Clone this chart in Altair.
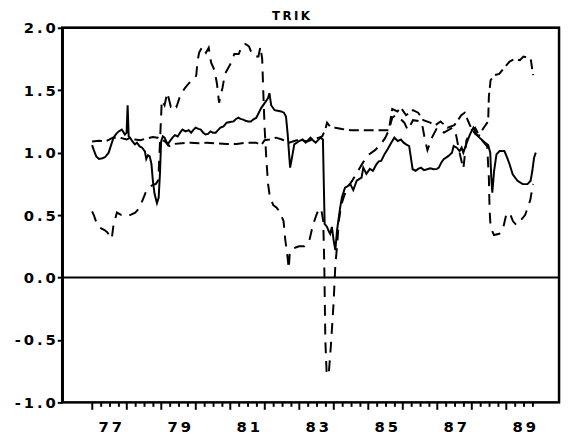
import altair as alt
import pandas as pd

# ---- data (decimal years, values) ----
solid_t = [1977.0, 1977.05, 1977.12, 1977.2, 1977.3, 1977.38, 1977.48, 1977.55, 1977.62, 1977.7,
           1977.77, 1977.86, 1977.95, 1978.0, 1978.03, 1978.06, 1978.1, 1978.17, 1978.24, 1978.3,
           1978.38, 1978.45, 1978.53, 1978.57, 1978.62, 1978.67, 1978.72, 1978.76, 1978.81, 1978.88,
           1978.93, 1978.97, 1979.0, 1979.05, 1979.1, 1979.19, 1979.25, 1979.33, 1979.4, 1979.48,
           1979.55, 1979.62, 1979.71, 1979.8, 1979.87, 1979.93, 1980.0, 1980.08, 1980.15, 1980.22,
           1980.29, 1980.36, 1980.43, 1980.5, 1980.58, 1980.65, 1980.72, 1980.81, 1980.9, 1981.0,
           1981.1, 1981.17, 1981.24, 1981.3, 1981.38, 1981.45, 1981.52, 1981.6, 1981.67, 1981.76,
           1981.85, 1981.9, 1982.0, 1982.1, 1982.14, 1982.19, 1982.29, 1982.38, 1982.48, 1982.56,
           1982.62, 1982.67, 1982.71, 1982.74, 1982.81, 1982.86, 1983.0, 1983.1, 1983.19, 1983.26,
           1983.33, 1983.4, 1983.48, 1983.55, 1983.62, 1983.69, 1983.72, 1983.74, 1983.81, 1983.86,
           1983.9, 1983.95, 1984.0, 1984.05, 1984.1, 1984.14, 1984.19, 1984.24, 1984.33, 1984.4,
           1984.48, 1984.57, 1984.67, 1984.75, 1984.81, 1984.86, 1984.95, 1985.05, 1985.14, 1985.24,
           1985.31, 1985.38, 1985.48, 1985.57, 1985.67, 1985.76, 1985.86, 1985.95, 1986.03, 1986.1,
           1986.19, 1986.24, 1986.29, 1986.38, 1986.45, 1986.53, 1986.62, 1986.71, 1986.8, 1986.9,
           1987.0, 1987.05, 1987.12, 1987.19, 1987.26, 1987.33, 1987.43, 1987.48, 1987.57, 1987.65,
           1987.71, 1987.76, 1987.86, 1987.95, 1988.05, 1988.1, 1988.19, 1988.33, 1988.48, 1988.54,
           1988.57, 1988.6, 1988.65, 1988.72, 1988.81, 1988.95, 1989.03, 1989.1, 1989.19, 1989.33,
           1989.48, 1989.62, 1989.71, 1989.76, 1989.81, 1989.86]
solid_v = [1.06, 1.02, 0.97, 0.95, 0.955, 0.965, 1.0, 1.06, 1.12, 1.15,
           1.17, 1.185, 1.145, 1.16, 1.38, 1.13, 1.12, 1.09, 1.066, 1.08,
           1.05, 1.04, 1.01, 0.95, 0.98, 0.97, 0.91, 0.78, 0.67, 0.595,
           0.64, 0.85, 1.09, 1.13, 1.12, 1.066, 1.09, 1.12, 1.14, 1.13,
           1.16, 1.185, 1.17, 1.18, 1.16, 1.18, 1.2, 1.19, 1.185, 1.16,
           1.145, 1.15, 1.17, 1.16, 1.16, 1.18, 1.2, 1.21, 1.24, 1.245,
           1.25, 1.27, 1.28, 1.27, 1.265, 1.255, 1.25, 1.25, 1.265, 1.28,
           1.33, 1.357, 1.397, 1.437, 1.476, 1.38, 1.34, 1.335, 1.33, 1.32,
           1.29, 1.145, 0.986, 0.88, 0.986, 1.066, 1.093, 1.105, 1.08, 1.1,
           1.12, 1.1, 1.08, 1.1, 1.12, 1.105, 0.7, 0.43, 0.405, 0.37,
           0.35, 0.405, 0.3, 0.22, 0.38, 0.46, 0.56, 0.64, 0.72, 0.73,
           0.75, 0.70, 0.775, 0.79, 0.80, 0.88, 0.83, 0.87, 0.855, 0.907,
           0.93, 0.934, 0.99, 1.03, 1.08, 1.12, 1.093, 1.105, 1.08, 1.066,
           1.053, 0.96, 0.867, 0.855, 0.87, 0.88, 0.86, 0.867, 0.875, 0.867,
           0.87, 0.88, 0.92, 0.947, 0.96, 0.974, 1.0, 1.053, 1.04, 1.013,
           1.04, 1.0, 1.08, 1.145, 1.2, 1.17, 1.13, 1.093, 1.06, 1.0,
           0.80, 0.68, 0.85, 0.986, 1.013, 1.013, 0.96, 0.907, 0.827, 0.775,
           0.748, 0.748, 0.775, 0.855, 0.96, 1.0]

dash_a_t = [1977.0, 1977.2, 1977.4, 1977.6, 1977.8, 1978.0, 1978.1, 1978.25, 1978.4, 1978.57,
            1978.76, 1978.9, 1979.0, 1979.1, 1979.24, 1979.38, 1979.6, 1979.86, 1980.1, 1980.33,
            1980.6, 1980.9, 1981.19, 1981.5, 1981.75, 1981.9, 1982.0, 1982.14, 1982.33, 1982.5,
            1982.71, 1982.86, 1983.0, 1983.24, 1983.38, 1983.57, 1983.67, 1983.76, 1983.81, 1983.9,
            1984.05, 1984.24, 1984.5, 1984.8, 1985.1, 1985.4, 1985.6, 1985.7, 1985.85, 1985.95,
            1986.1, 1986.3, 1986.45, 1986.6, 1986.8, 1986.95, 1987.1, 1987.3, 1987.5, 1987.7,
            1987.8, 1987.95, 1988.1, 1988.2, 1988.35, 1988.48, 1988.5, 1988.55, 1988.65, 1988.8,
            1988.95, 1989.1, 1989.25, 1989.4, 1989.5, 1989.62, 1989.72, 1989.78]
dash_a_v = [1.09, 1.095, 1.09, 1.12, 1.12, 1.105, 1.12, 1.105, 1.1, 1.113,
            1.125, 1.12, 1.1, 1.093, 1.053, 1.07, 1.075, 1.08, 1.075, 1.08,
            1.075, 1.07, 1.07, 1.08, 1.08, 1.06, 1.1, 1.105, 1.12, 1.105,
            1.08, 1.093, 1.105, 1.09, 1.105, 1.12, 1.13, 1.185, 1.24, 1.21,
            1.2, 1.19, 1.18, 1.18, 1.18, 1.18, 1.18, 1.35, 1.33, 1.36,
            1.30, 1.34, 1.32, 1.26, 1.24, 1.22, 1.25, 1.2, 1.22, 1.3,
            1.32, 1.22, 1.15, 1.13, 1.2, 1.25, 1.45, 1.58, 1.62, 1.63,
            1.68, 1.73, 1.75, 1.74, 1.77, 1.76, 1.74, 1.62]

dash_b_t = [1977.0, 1977.05, 1977.15, 1977.22, 1977.29, 1977.36, 1977.43, 1977.5, 1977.57, 1977.62,
            1977.72, 1977.85, 1978.0, 1978.1, 1978.25, 1978.35, 1978.42, 1978.55, 1978.65, 1978.75,
            1978.85, 1978.92, 1978.97, 1979.02, 1979.1, 1979.18, 1979.28, 1979.38, 1979.45, 1979.57,
            1979.7, 1979.82, 1979.95, 1980.02, 1980.05, 1980.1, 1980.2, 1980.3, 1980.38, 1980.45,
            1980.55, 1980.62, 1980.68, 1980.72, 1980.78, 1980.85, 1980.95, 1981.05, 1981.12, 1981.25,
            1981.35, 1981.45, 1981.55, 1981.62, 1981.7, 1981.82, 1981.88, 1981.93, 1981.96, 1982.0,
            1982.05, 1982.1, 1982.15, 1982.25, 1982.35, 1982.45, 1982.55, 1982.6, 1982.65, 1982.7,
            1982.73, 1982.8, 1982.9, 1983.0, 1983.15, 1983.3, 1983.4, 1983.5, 1983.57, 1983.64,
            1983.7, 1983.73, 1983.76, 1983.8, 1983.86, 1983.92, 1984.0, 1984.05, 1984.1, 1984.15,
            1984.22, 1984.3, 1984.4, 1984.55, 1984.7, 1984.85, 1985.0, 1985.2, 1985.35, 1985.5,
            1985.6, 1985.7, 1985.8, 1985.9, 1986.05, 1986.15, 1986.3, 1986.55, 1986.65, 1986.72,
            1986.85, 1987.0, 1987.2, 1987.45, 1987.55, 1987.65, 1987.76, 1987.85, 1988.0, 1988.1,
            1988.2, 1988.3, 1988.45, 1988.5, 1988.52, 1988.55, 1988.65, 1988.8, 1988.9, 1989.0,
            1989.1, 1989.2, 1989.3, 1989.4, 1989.55, 1989.7, 1989.78]
dash_b_v = [0.53, 0.50, 0.42, 0.40, 0.39, 0.38, 0.365, 0.34, 0.31, 0.42,
            0.52, 0.5, 0.5, 0.5, 0.52, 0.55, 0.59, 0.68, 0.72, 0.74,
            0.75, 0.78, 1.1, 1.42, 1.38, 1.48, 1.37, 1.40, 1.37, 1.47,
            1.52, 1.56, 1.58, 1.62, 1.72, 1.80, 1.85, 1.80, 1.84, 1.72,
            1.66, 1.55, 1.40, 1.45, 1.52, 1.63, 1.68, 1.73, 1.79, 1.79,
            1.86, 1.87, 1.85, 1.80, 1.77, 1.77, 1.85, 1.75, 1.5, 1.2,
            0.95, 0.75, 0.65, 0.58, 0.56, 0.52, 0.45, 0.3, 0.2, 0.07,
            0.2, 0.23, 0.24, 0.25, 0.25, 0.3, 0.42, 0.5, 0.55, 0.55,
            0.45, 0.1, -0.5, -0.78, -0.77, -0.55, -0.2, 0.1, 0.25, 0.45,
            0.58, 0.65, 0.72, 0.78, 0.85, 0.92, 0.98, 1.02, 1.06, 1.12,
            1.18, 1.28, 1.3, 1.28, 1.24, 1.18, 1.26, 1.25, 1.1, 1.02,
            1.12, 1.2, 1.16, 1.2, 1.14, 1.0, 0.87, 1.1, 1.18, 1.2,
            1.15, 1.1, 1.05, 0.8, 0.55, 0.4, 0.34, 0.35, 0.38, 0.5,
            0.52, 0.45, 0.42, 0.45, 0.5, 0.62, 0.75]

y_ticks = [-1.0, -0.5, 0.0, 0.5, 1.0, 1.5, 2.0]
x_ticks = [1977 + q / 4 for q in range(52)]  # quarterly, 1977.00 .. 1989.75
zero_line = [0.0]

FONT = "DejaVu Sans"
TS = "\u2009"
W, H = 504, 380

df_s = pd.DataFrame({"t": solid_t, "v": solid_v})
df_a = pd.DataFrame({"t": dash_a_t, "v": dash_a_v})
df_b = pd.DataFrame({"t": dash_b_t, "v": dash_b_v})
df_z = pd.DataFrame({"v": zero_line})

x_scale = alt.Scale(domain=[1976.134, 1990.534], nice=False, zero=False)
y_scale = alt.Scale(domain=[-1.0, 2.0], nice=False, zero=False)

x_axis = alt.Axis(
    values=x_ticks, title=None, grid=False, domain=False,
    tickSize={"condition": {"test": "datum.value % 1 === 0", "value": 7}, "value": 4},
    tickWidth=2, tickColor="black",
    labelExpr=("(datum.value % 2 === 1) ? (substring(toString(datum.value), 2, 3) + '" + TS +
               "' + substring(toString(datum.value), 3, 4)) : ''"),
    labelOffset=18, labelFont=FONT, labelFontSize=15, labelFontWeight="bold",
    labelColor="black", labelPadding=11, labelFlush=False, labelOverlap=False, labelBound=False,
)
y_axis = alt.Axis(
    values=y_ticks, title=None, grid=False, domain=True,
    domainColor="black", domainWidth=2.5, tickColor="black", tickWidth=2, tickSize=5,
    labelExpr=("(datum.value < 0 ? '-" + TS + "' : '') + replace(format(abs(datum.value), '.1f'), '.', '" +
               TS + "." + TS + "')"),
    labelFont=FONT, labelFontSize=15, labelFontWeight="bold", labelColor="black",
    labelPadding=2, labelFlush=False, labelOverlap=False,
)

X = alt.X("t:Q", scale=x_scale, axis=x_axis)
Y = alt.Y("v:Q", scale=y_scale, axis=y_axis)

solid = alt.Chart(df_s).mark_line(color="black", strokeWidth=2).encode(x=X, y=Y)
dash_a = alt.Chart(df_a).mark_line(color="black", strokeWidth=2, strokeDash=[10, 5]).encode(x=X, y=Y)
dash_b = alt.Chart(df_b).mark_line(color="black", strokeWidth=2, strokeDash=[11, 8]).encode(x=X, y=Y)
zero = alt.Chart(df_z).mark_rule(color="black", strokeWidth=2).encode(y=Y)
frame = alt.Chart(df_z).mark_rect(fillOpacity=0, stroke="black", strokeWidth=2.5).encode(
    x=alt.value(0), x2=alt.value(W), y=alt.value(0), y2=alt.value(H))

chart = alt.layer(solid, zero, dash_a, dash_b, frame).properties(
    width=W, height=H,
    background="white",
    title=alt.TitleParams("T" + TS + "R" + TS + "I" + TS + "K", font=FONT, fontSize=12, fontWeight="bold",
                          color="black", anchor="middle", dx=-20, offset=-2, frame="group"),
    autosize=alt.AutoSizeParams(type="none"),
    padding={"left": 55, "top": 17, "right": 3, "bottom": 29},
).configure_view(stroke="black", strokeWidth=2)

chart.save("out.html", embed_options={"renderer": "svg", "actions": False})
